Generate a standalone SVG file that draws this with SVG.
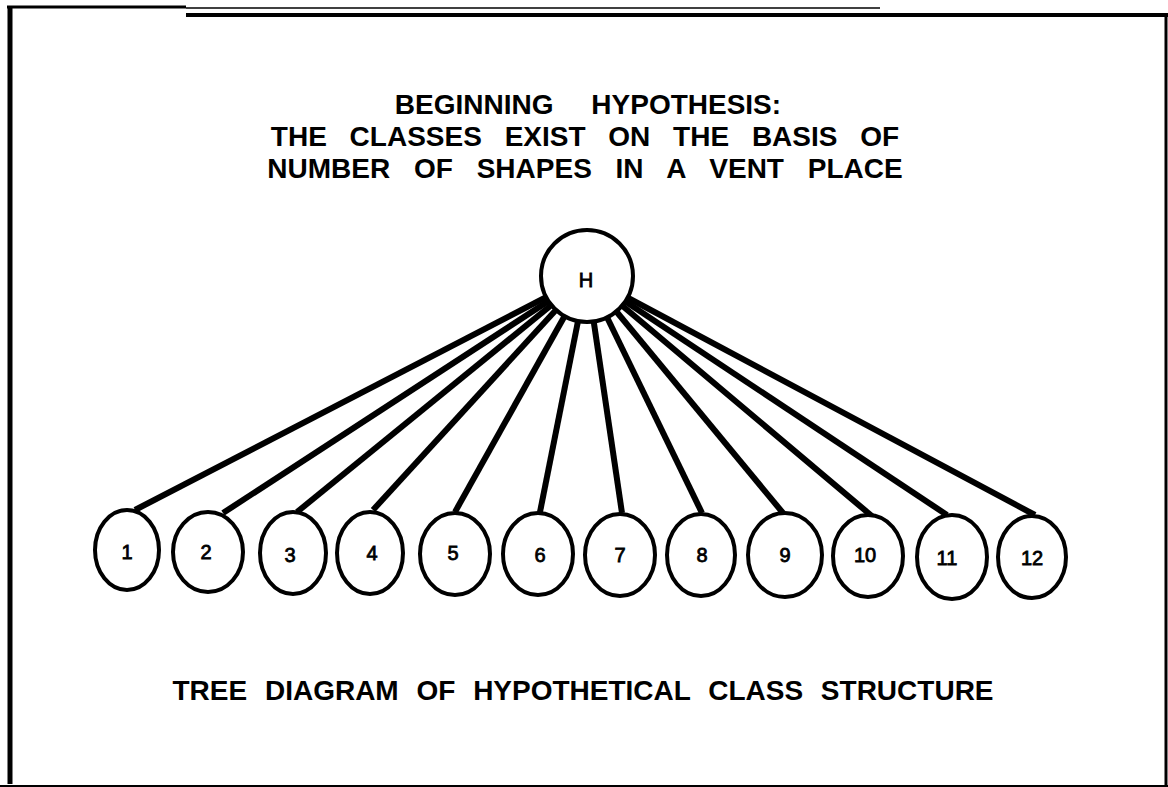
<svg xmlns="http://www.w3.org/2000/svg" width="1168" height="787" viewBox="0 0 1168 787">
<style>
.frame{stroke:#000;fill:none;stroke-linecap:butt}
.title{font-family:"Liberation Sans",Arial,sans-serif;font-weight:bold;font-size:28px;fill:#000;text-anchor:middle}
.lbl{font-family:"Liberation Sans",Arial,sans-serif;font-size:20px;fill:#000;text-anchor:middle;stroke:#000;stroke-width:0.8}
.node{fill:#fff;stroke:#000;stroke-width:4}
.conn line{stroke:#000;stroke-width:6;stroke-linecap:butt}
</style>
<rect width="1168" height="787" fill="#fff"/>
<g id="frame">
<line class="frame" x1="10" y1="7" x2="10" y2="784" stroke-width="5"/>
<line class="frame" x1="7" y1="7" x2="186" y2="7" stroke-width="3"/>
<line class="frame" x1="186" y1="8" x2="880" y2="8" stroke-width="1.5"/>
<line class="frame" x1="186" y1="15" x2="1168" y2="15" stroke-width="4"/>
<line class="frame" x1="1166" y1="13" x2="1166" y2="786" stroke-width="3"/>
<line class="frame" x1="0" y1="786" x2="1168" y2="786" stroke-width="2"/>
</g>
<g id="title">
<text class="title" x="588" y="114" word-spacing="30">BEGINNING HYPOTHESIS:</text>
<text class="title" x="585" y="146" word-spacing="15">THE CLASSES EXIST ON THE BASIS OF</text>
<text class="title" x="585" y="178" word-spacing="16">NUMBER OF SHAPES IN A VENT PLACE</text>
</g>
<g id="connectors" class="conn">
<line x1="587" y1="276" x2="135" y2="510"/>
<line x1="587" y1="276" x2="223" y2="513"/>
<line x1="587" y1="276" x2="297" y2="512"/>
<line x1="587" y1="276" x2="373" y2="510"/>
<line x1="587" y1="276" x2="455" y2="512"/>
<line x1="587" y1="276" x2="540" y2="512"/>
<line x1="587" y1="276" x2="622" y2="513"/>
<line x1="587" y1="276" x2="702" y2="513"/>
<line x1="587" y1="276" x2="783" y2="513"/>
<line x1="587" y1="276" x2="873" y2="517"/>
<line x1="587" y1="276" x2="947" y2="515"/>
<line x1="587" y1="276" x2="1035" y2="515"/>
</g>
<g id="node-H"><circle class="node" cx="587" cy="276" r="46"/><text class="lbl" x="586" y="287" font-size="22">H</text></g>
<g id="node-1"><ellipse class="node" cx="127" cy="550" rx="32" ry="40"/><text class="lbl" x="127" y="559">1</text></g>
<g id="node-2"><ellipse class="node" cx="208" cy="552" rx="35" ry="40"/><text class="lbl" x="206" y="559">2</text></g>
<g id="node-3"><ellipse class="node" cx="293" cy="553" rx="33" ry="41"/><text class="lbl" x="290" y="562">3</text></g>
<g id="node-4"><ellipse class="node" cx="370" cy="553" rx="33" ry="41"/><text class="lbl" x="372" y="560">4</text></g>
<g id="node-5"><ellipse class="node" cx="455" cy="554" rx="35" ry="41"/><text class="lbl" x="453" y="560">5</text></g>
<g id="node-6"><ellipse class="node" cx="538" cy="554" rx="35" ry="41"/><text class="lbl" x="540" y="562">6</text></g>
<g id="node-7"><ellipse class="node" cx="620" cy="555" rx="35" ry="41"/><text class="lbl" x="620" y="562">7</text></g>
<g id="node-8"><ellipse class="node" cx="701" cy="555" rx="34" ry="41"/><text class="lbl" x="702" y="562">8</text></g>
<g id="node-9"><ellipse class="node" cx="785" cy="555" rx="37" ry="42"/><text class="lbl" x="785" y="562">9</text></g>
<g id="node-10"><ellipse class="node" cx="868" cy="556" rx="35" ry="41"/><text class="lbl" x="865" y="562">10</text></g>
<g id="node-11"><ellipse class="node" cx="952" cy="557" rx="35" ry="42"/><text class="lbl" x="947" y="565">11</text></g>
<g id="node-12"><ellipse class="node" cx="1032" cy="557" rx="34" ry="41"/><text class="lbl" x="1032" y="565">12</text></g>
<g id="caption">
<text class="title" x="583" y="700" word-spacing="10">TREE DIAGRAM OF HYPOTHETICAL CLASS STRUCTURE</text>
</g>
</svg>
